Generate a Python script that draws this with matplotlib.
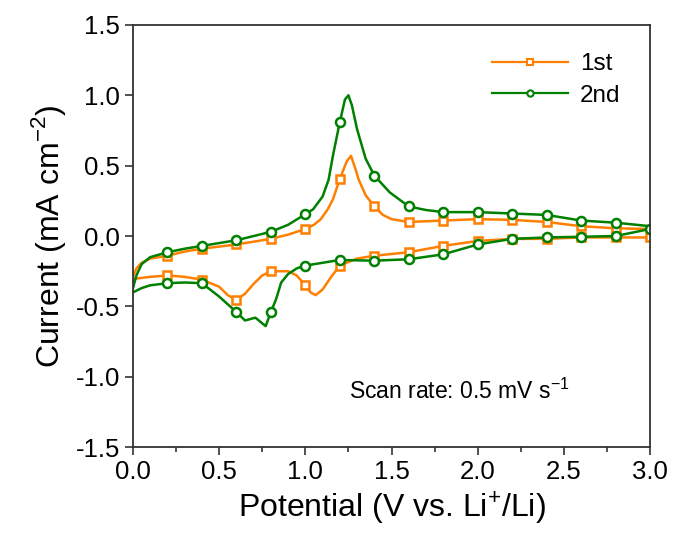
import numpy as np
import matplotlib
matplotlib.use("Agg")
import matplotlib.pyplot as plt
from matplotlib.lines import Line2D
from matplotlib.ticker import MultipleLocator

plt.rcParams['font.family'] = ['Liberation Sans', 'DejaVu Sans']
plt.rcParams['mathtext.fontset'] = 'custom'
plt.rcParams['mathtext.rm'] = 'Liberation Sans'
plt.rcParams['axes.unicode_minus'] = False

# 1st cycle, anodic (0 -> 3 V) then cathodic (3 -> 0 V)
v1_up = [0.0, 0.02, 0.05, 0.1, 0.2, 0.3, 0.4, 0.5, 0.6, 0.7, 0.8, 0.9, 1.0, 1.05, 1.09,
         1.13, 1.16, 1.2, 1.24, 1.265, 1.29, 1.31, 1.35, 1.4, 1.45, 1.5, 1.6, 1.8, 2.0,
         2.2, 2.4, 2.6, 2.8, 3.0]
i1_up = [-0.29, -0.23, -0.19, -0.16, -0.14, -0.11, -0.09, -0.075, -0.06, -0.04, -0.02, 0.01,
         0.05, 0.08, 0.12, 0.19, 0.26, 0.405, 0.53, 0.57, 0.48, 0.40, 0.29, 0.21, 0.15, 0.12,
         0.10, 0.11, 0.12, 0.115, 0.10, 0.07, 0.055, 0.05]
v1_dn = [3.0, 2.8, 2.6, 2.4, 2.2, 2.0, 1.8, 1.6, 1.4, 1.3, 1.2, 1.15, 1.1, 1.06, 1.03, 1.0,
         0.95, 0.9, 0.8, 0.75, 0.7, 0.65, 0.6, 0.55, 0.5, 0.4, 0.3, 0.2, 0.1, 0.0]
i1_dn = [-0.01, -0.01, -0.01, -0.02, -0.02, -0.035, -0.07, -0.115, -0.14, -0.16, -0.21, -0.29,
         -0.38, -0.42, -0.40, -0.35, -0.28, -0.25, -0.25, -0.28, -0.34, -0.41, -0.455, -0.42,
         -0.36, -0.31, -0.29, -0.28, -0.29, -0.305]

# 2nd cycle
v2_up = [0.0, 0.02, 0.05, 0.1, 0.2, 0.3, 0.4, 0.5, 0.6, 0.7, 0.8, 0.9, 1.0, 1.045, 1.1,
         1.135, 1.16, 1.2, 1.23, 1.25, 1.27, 1.3, 1.35, 1.4, 1.49, 1.6, 1.7, 1.8, 2.0,
         2.2, 2.4, 2.6, 2.8, 3.0]
i2_up = [-0.37, -0.28, -0.2, -0.15, -0.115, -0.09, -0.07, -0.05, -0.03, 0.0, 0.03, 0.08,
         0.155, 0.19, 0.28, 0.40, 0.57, 0.81, 0.97, 1.0, 0.93, 0.76, 0.55, 0.43, 0.31, 0.21,
         0.185, 0.17, 0.17, 0.16, 0.15, 0.11, 0.095, 0.07]
v2_dn = [3.0, 2.8, 2.6, 2.4, 2.2, 2.0, 1.8, 1.6, 1.4, 1.2, 1.0, 0.95, 0.9, 0.86, 0.83, 0.8,
         0.77, 0.74, 0.71, 0.68, 0.65, 0.6, 0.5, 0.4, 0.3, 0.2, 0.1, 0.05, 0.0]
i2_dn = [0.05, 0.0, -0.005, -0.01, -0.02, -0.06, -0.13, -0.165, -0.175, -0.17, -0.21, -0.23,
         -0.27, -0.33, -0.45, -0.54, -0.64, -0.61, -0.58, -0.59, -0.60, -0.54, -0.43, -0.335,
         -0.33, -0.335, -0.35, -0.37, -0.40]

labels = ["1st", "2nd"]
colors = ["#FF7F00", "#008000"]
markers = ["s", "o"]

fig = plt.figure(figsize=(6.75, 5.42), dpi=100)
ax = fig.add_axes([0.197, 0.175, 0.766, 0.779])


def marker_idx(up, dn):
    # markers every 0.2 V (not at 0 V), the 3 V marker sits on the return sweep
    v = list(up) + list(dn)
    idx = []
    for k, x in enumerate(v):
        if k == len(up) - 1:
            continue
        q = x / 0.2
        if x > 0.01 and abs(q - round(q)) < 1e-6:
            idx.append(k)
    return v, idx


cycles = [(v1_up, i1_up, v1_dn, i1_dn), (v2_up, i2_up, v2_dn, i2_dn)]
handles = []
for (vu, iu, vd, idn), lab, c, m in zip(cycles, labels, colors, markers):
    v, idx = marker_idx(vu, vd)
    cur = list(iu) + list(idn)
    ax.plot(v, cur, color=c, lw=1.8, marker=m, markevery=idx, ms=6 if m == 's' else 6.5,
            mfc='white', mec=c, mew=1.8)
    handles.append(Line2D([], [], color=c, lw=1.6, marker=m, ms=4.5, mfc='white',
                          mec=c, mew=1.5, label=lab))

ax.set_xlim(0, 3.0)
ax.set_ylim(-1.5, 1.5)
ax.xaxis.set_major_locator(MultipleLocator(0.5))
ax.xaxis.set_minor_locator(MultipleLocator(0.25))
ax.yaxis.set_major_locator(MultipleLocator(0.5))
ax.tick_params(which='both', direction='out', labelsize=18.5, width=1.2, colors='#333333',
               labelcolor='black')
ax.tick_params(which='major', length=6)
ax.tick_params(which='minor', length=3.5)
for s in ax.spines.values():
    s.set_linewidth(1.3)
    s.set_color('#333333')

ax.set_xlabel("Potential (V vs. Li$^{+}$/Li)", fontsize=23, labelpad=3)
ax.set_ylabel("Current (mA cm$^{-2}$)", fontsize=23, labelpad=5)

ax.text(0.418, 0.115, "Scan rate: 0.5 mV s$^{-1}$", transform=ax.transAxes, fontsize=16.5)

ax.legend(handles=handles, loc='upper right', frameon=False, fontsize=17.5,
          handlelength=3.1, handletextpad=0.5, borderaxespad=0.5, labelspacing=0.4,
          bbox_to_anchor=(0.985, 0.985))

fig.savefig("out.png", dpi=100)
